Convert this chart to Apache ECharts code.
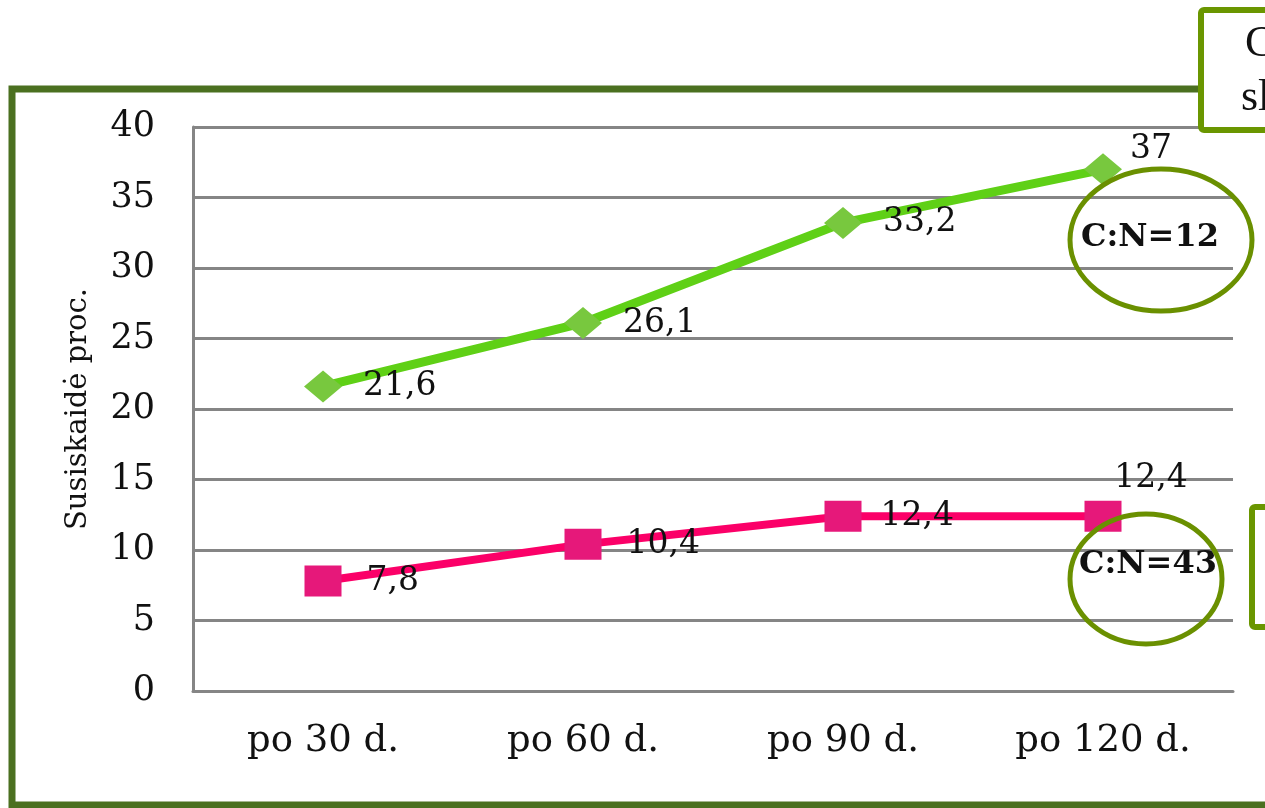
<!DOCTYPE html>
<html>
<head>
<meta charset="utf-8">
<style>
  html, body { margin: 0; padding: 0; background: #ffffff; }
  #chart { width: 1265px; height: 808px; }
</style>
<script src="https://cdn.jsdelivr.net/npm/echarts@6/dist/echarts.min.js"></script>
</head>
<body>
<div id="chart"></div>
<script>
// Periods after which the share of decomposition was measured
const categories = ['po 30 d.', 'po 60 d.', 'po 90 d.', 'po 120 d.'];
// Decomposition, per cent: material with C:N = 12
const decompCN12 = [21.6, 26.1, 33.2, 37];
// Decomposition, per cent: material with C:N = 43
const decompCN43 = [7.8, 10.4, 12.4, 12.4];
// Value axis
const yMin = 0, yMax = 40, yStep = 5;
const yAxisTitle = 'Susiskaidė proc.';

const FONT = 'DejaVu Serif';
const fmt = v => String(v).replace('.', ',');

// Per-point label placement (index -> label overrides)
const labelTweaksCN12 = { 3: { position: 'right', distance: 8, offset: [0, -20] } };
const labelTweaksCN43 = { 2: { distance: 19 }, 3: { position: 'top', distance: 4, offset: [48, -2] } };

function buildData(values, tweaks) {
  return values.map((v, i) => tweaks[i] ? { value: v, label: tweaks[i] } : v);
}

const chart = echarts.init(document.getElementById('chart'), null, { renderer: 'canvas' });

chart.setOption({
  backgroundColor: '#ffffff',
  animation: false,
  grid: { left: 193, top: 127, width: 1040, height: 564, containLabel: false },
  xAxis: {
    type: 'category',
    data: categories,
    boundaryGap: true,
    axisLine: { show: true, lineStyle: { color: '#858585', width: 3 } },
    axisTick: { show: false },
    axisLabel: { color: '#111', fontFamily: FONT, fontSize: 37, margin: 32 },
    splitLine: { show: false }
  },
  yAxis: {
    type: 'value',
    min: yMin, max: yMax, interval: yStep,
    name: yAxisTitle,
    nameLocation: 'middle',
    nameGap: 100,
    nameRotate: 90,
    nameTextStyle: { color: '#111', fontFamily: FONT, fontSize: 29 },
    axisLine: { show: true, lineStyle: { color: '#858585', width: 3 } },
    axisTick: { show: false },
    axisLabel: { color: '#111', fontFamily: FONT, fontSize: 35, margin: 38 },
    splitLine: { show: true, lineStyle: { color: '#858585', width: 3 } }
  },
  series: [
    {
      name: 'C:N=12',
      type: 'line',
      data: buildData(decompCN12, labelTweaksCN12),
      symbol: 'diamond',
      symbolSize: [38, 32],
      lineStyle: { color: '#5fd016', width: 9 },
      itemStyle: { color: '#78c83e' },
      label: {
        show: true, position: 'right', distance: 21,
        color: '#111', fontFamily: FONT, fontSize: 33,
        formatter: p => fmt(p.value)
      },
      z: 3
    },
    {
      name: 'C:N=43',
      type: 'line',
      data: buildData(decompCN43, labelTweaksCN43),
      symbol: 'rect',
      symbolSize: [37, 31],
      lineStyle: { color: '#fb0068', width: 8 },
      itemStyle: { color: '#e6187a' },
      label: {
        show: true, position: 'right', distance: 25,
        color: '#111', fontFamily: FONT, fontSize: 33,
        formatter: p => fmt(p.value)
      },
      z: 3
    }
  ],
  graphic: [
    // outer frame
    { type: 'rect', z: 50, silent: true,
      shape: { x: 12, y: 89, width: 1300, height: 716 },
      style: { fill: 'none', stroke: '#4b7020', lineWidth: 7 } },
    // box at top right
    { type: 'rect', z: 60, silent: true,
      shape: { x: 1201, y: 10, width: 120, height: 120, r: 3 },
      style: { fill: '#ffffff', stroke: '#6a9600', lineWidth: 6 } },
    { type: 'text', z: 61, silent: true, left: 1245, top: 22,
      style: { text: 'C', fill: '#111', font: '44px "Liberation Serif"' } },
    { type: 'text', z: 61, silent: true, left: 1241, top: 76,
      style: { text: 'sl', fill: '#111', font: '44px "Liberation Serif"' } },
    // box at right
    { type: 'rect', z: 60, silent: true,
      shape: { x: 1252, y: 507, width: 80, height: 120, r: 3 },
      style: { fill: '#ffffff', stroke: '#6a9600', lineWidth: 6 } },
    // C:N annotations
    { type: 'text', z: 70, silent: true,
      style: { x: 1150, y: 238, text: 'C:N=12', fill: '#111', align: 'center', verticalAlign: 'middle',
               font: 'bold 32px "DejaVu Serif"' } },
    { type: 'ellipse', z: 71, silent: true,
      shape: { cx: 1161, cy: 240, rx: 91, ry: 71 },
      style: { fill: 'none', stroke: '#6a9000', lineWidth: 5 } },
    { type: 'text', z: 70, silent: true,
      style: { x: 1148, y: 565, text: 'C:N=43', fill: '#111', align: 'center', verticalAlign: 'middle',
               font: 'bold 32px "DejaVu Serif"' } },
    { type: 'ellipse', z: 71, silent: true,
      shape: { cx: 1146, cy: 579, rx: 76, ry: 65 },
      style: { fill: 'none', stroke: '#6a9000', lineWidth: 5 } }
  ]
});
</script>
</body>
</html>
